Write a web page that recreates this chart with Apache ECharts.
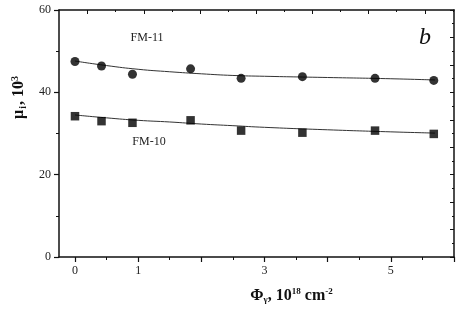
<!DOCTYPE html>
<html>
<head>
<meta charset="utf-8">
<script src="https://cdn.jsdelivr.net/npm/echarts@6/dist/echarts.min.js"></script>
<style>html,body{margin:0;padding:0;background:#fff}#c{width:463px;height:315px}</style>
</head>
<body>
<div id="c"></div>
<script>
// Measured points
const doseX = [0, 0.42, 0.91, 1.83, 2.63, 3.6, 4.75, 5.68];
const fm11 = [47.5, 46.4, 44.4, 45.7, 43.4, 43.8, 43.4, 42.9];
const fm10 = [34.2, 33.0, 32.6, 33.2, 30.7, 30.2, 30.7, 29.9];
// Fit curves
const fitX = [0, 0.5, 1, 1.5, 2, 2.5, 3, 4, 5, 5.7];
const fit11 = [47.6, 46.5, 45.6, 45.0, 44.5, 44.1, 43.9, 43.6, 43.3, 43.0];
const fit10 = [34.5, 33.8, 33.2, 32.8, 32.3, 31.9, 31.5, 30.9, 30.4, 30.1];
// Axis ticks
const xMajorTicks = [0, 1, 2, 3, 4, 5, 6];
const xMinorTicks = [0.5, 1.5, 2.5, 3.5, 4.5, 5.5];
const xTickLabels = [0, 1, 3, 5];
const topMajor = [0, 1, 2, 3, 4, 5, 6];
const topMinor = [0.5, 1.5, 2.5, 3.5, 4.5, 5.5, 6.5];

const pair = (xs, ys) => xs.map((x, i) => [x, ys[i]]);
const serif = 'Liberation Serif';
const chart = echarts.init(document.getElementById('c'));
chart.setOption({
  animation: false,
  backgroundColor: '#fff',
  grid: {left: 59, right: 9, top: 10, bottom: 58, containLabel: false},
  xAxis: [
    {type: 'value', position: 'bottom', min: -0.253, max: 6.0,
     axisLine: {show: true, onZero: false, lineStyle: {color: '#111', width: 1.5}},
     axisTick: {show: true, length: 5, customValues: xMajorTicks, lineStyle: {color: '#111', width: 1.2}},
     axisLabel: {customValues: xTickLabels, color: '#222', fontFamily: serif, fontSize: 12, margin: 8},
     splitLine: {show: false},
     name: '{b|Φ}{s|γ}{b|, 10}{p|18}{b| cm}{p|-2}', nameLocation: 'middle', nameGap: 30,
     nameTextStyle: {padding: [0, 0, 0, 70], rich: {
       b: {fontFamily: serif, fontWeight: 'bold', fontSize: 16, color: '#111'},
       s: {fontFamily: serif, fontWeight: 'bold', fontSize: 9, color: '#111', verticalAlign: 'bottom', padding: [8, 0, 0, 0]},
       p: {fontFamily: serif, fontWeight: 'bold', fontSize: 9, color: '#111', verticalAlign: 'top', padding: [0, 0, 8, 0]}
     }}},
    {type: 'value', position: 'bottom', min: -0.253, max: 6.0,
     axisLine: {show: false, onZero: false}, axisTick: {show: true, length: 3, customValues: xMinorTicks, lineStyle: {color: '#111', width: 1}},
     axisLabel: {show: false}, splitLine: {show: false}},
    {type: 'value', position: 'top', min: -0.51, max: 6.52,
     axisLine: {show: true, onZero: false, lineStyle: {color: '#111', width: 1.5}},
     axisTick: {show: true, inside: true, length: 4, customValues: topMajor, lineStyle: {color: '#111', width: 1}},
     axisLabel: {show: false}, splitLine: {show: false}},
    {type: 'value', position: 'top', min: -0.51, max: 6.52,
     axisLine: {show: false, onZero: false},
     axisTick: {show: true, inside: true, length: 2, customValues: topMinor, lineStyle: {color: '#111', width: 1}},
     axisLabel: {show: false}, splitLine: {show: false}}
  ],
  yAxis: [
    {type: 'value', position: 'left', min: 0, max: 60, interval: 20,
     axisLine: {show: true, onZero: false, lineStyle: {color: '#111', width: 1.5}},
     axisTick: {show: true, length: 5, lineStyle: {color: '#111', width: 1.2}},
     minorTick: {show: true, splitNumber: 2, length: 3, lineStyle: {color: '#111', width: 1}},
     axisLabel: {color: '#222', fontFamily: serif, fontSize: 12, margin: 8},
     splitLine: {show: false},
     name: '{b|μ}{s|i}{b|, 10}{p|3}', nameLocation: 'middle', nameGap: 28,
     nameTextStyle: {padding: [0, 0, 0, 72], rich: {
       b: {fontFamily: serif, fontWeight: 'bold', fontSize: 16, color: '#111'},
       s: {fontFamily: serif, fontWeight: 'bold', fontSize: 10, color: '#111', verticalAlign: 'bottom', padding: [8, 1, 0, 1]},
       p: {fontFamily: serif, fontWeight: 'bold', fontSize: 10, color: '#111', verticalAlign: 'top', padding: [0, 0, 8, 0]}
     }}},
    {type: 'value', position: 'right', min: 0, max: 9, interval: 1,
     axisLine: {show: true, onZero: false, lineStyle: {color: '#111', width: 1.5}},
     axisTick: {show: true, inside: true, length: 4, lineStyle: {color: '#111', width: 1}},
     minorTick: {show: true, splitNumber: 2, length: 2, lineStyle: {color: '#111', width: 1}},
     axisLabel: {show: false}, splitLine: {show: false}}
  ],
  graphic: [
    {type: 'text', x: 147, y: 38, style: {text: 'FM-11', font: '12px "Liberation Serif"', fill: '#222', align: 'center', verticalAlign: 'middle'}},
    {type: 'text', x: 149, y: 142, style: {text: 'FM-10', font: '12px "Liberation Serif"', fill: '#222', align: 'center', verticalAlign: 'middle'}},
    {type: 'text', x: 425, y: 38, style: {text: 'b', font: 'italic 24px "Liberation Serif"', fill: '#111', align: 'center', verticalAlign: 'middle'}}
  ],
  series: [
    {type: 'line', name: 'FM-11 fit', data: pair(fitX, fit11), smooth: true, showSymbol: false, symbol: 'none',
     lineStyle: {color: '#333', width: 1}, z: 2},
    {type: 'line', name: 'FM-10 fit', data: pair(fitX, fit10), smooth: true, showSymbol: false, symbol: 'none',
     lineStyle: {color: '#333', width: 1}, z: 2},
    {type: 'scatter', name: 'FM-11', data: pair(doseX, fm11), symbol: 'circle', symbolSize: 9,
     itemStyle: {color: '#000'}, z: 3},
    {type: 'scatter', name: 'FM-10', data: pair(doseX, fm10), symbol: 'rect', symbolSize: 8.5,
     itemStyle: {color: '#000'}, z: 3}
  ]
});
</script>
</body>
</html>
